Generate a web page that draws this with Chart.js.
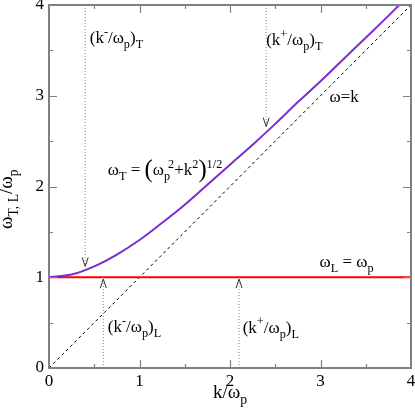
<!DOCTYPE html>
<html>
<head>
<meta charset="utf-8">
<script src="https://cdn.jsdelivr.net/npm/chart.js@4/dist/chart.umd.min.js"></script>
<style>
  html, body { margin: 0; padding: 0; background: #fff; }
  #wrap { width: 415px; height: 417px; }
</style>
</head>
<body>
<div id="wrap"><canvas id="canvas" width="415" height="417"></canvas></div>
<script>
// transverse branch
const kT = [0, 0.25, 0.5, 0.75, 1, 1.25, 1.5, 1.75, 2, 2.25, 2.5, 2.75, 3, 3.25, 3.5, 3.75, 3.87];
const omegaT = [1, 1.03, 1.12, 1.25, 1.41, 1.6, 1.8, 2.02, 2.24, 2.46, 2.69, 2.93, 3.16, 3.4, 3.64, 3.88, 4];
// longitudinal branch and light line
const kL = [0, 4];
const omegaL = [1, 1];
const kLight = [0, 4];
const omegaLight = [0, 4];
// marker arrows: x position, start and tip
const arrowK = [0.4, 2.4, 0.6, 2.1];
const arrowFrom = [4, 4, 0, 0];
const arrowTo = [1.12, 2.66, 0.98, 0.98];
const tickLabels = ['0', '1', '2', '3', '4'];

const serif = '"Liberation Serif", "DejaVu Serif", serif';
Chart.defaults.font.family = serif;
const pts = (xs, ys) => xs.map((x, i) => ({x: x, y: ys[i]}));

const datasets = [
  {data: pts(kT, omegaT), borderColor: '#7a2ed0', borderWidth: 2, cubicInterpolationMode: 'monotone'},
  {data: pts(kL, omegaL), borderColor: '#ff0000', borderWidth: 2},
  {data: pts(kLight, omegaLight), borderColor: '#000', borderWidth: 1, borderDash: [3, 3]}
];
arrowK.forEach((k, i) => {
  datasets.push({data: [{x: k, y: arrowFrom[i]}, {x: k, y: arrowTo[i]}],
    borderColor: '#8a8a8a', borderWidth: 1, borderDash: [1, 2]});
});
datasets.forEach(d => { d.showLine = true; d.pointRadius = 0; d.fill = false; });

// rich text: parts = [text, kind, extra]
function rich(ctx, x, y, parts, size) {
  let cx = x;
  parts.forEach(p => {
    const kind = p[1] || 'n';
    let s = size, dy = 0;
    if (kind === 'sub') { s = size * 0.72; dy = size * 0.3; }
    if (kind === 'sup') { s = size * 0.72; dy = -size * 0.42; }
    if (kind === 'big') { s = size * 1.45; dy = size * 0.12; }
    if (kind === 'back') { cx -= p[2]; return; }
    ctx.font = s + 'px ' + serif;
    ctx.fillText(p[0], cx, y + dy);
    cx += ctx.measureText(p[0]).width;
  });
}

const decor = {
  id: 'decor',
  afterDatasetsDraw(chart) {
    const ctx = chart.ctx, xs = chart.scales.x, ys = chart.scales.y;
    const a = chart.chartArea;
    ctx.save();
    // arrow heads
    ctx.strokeStyle = '#333';
    ctx.lineWidth = 1;
    arrowK.forEach((k, i) => {
      const px = xs.getPixelForValue(k), py = ys.getPixelForValue(arrowTo[i]);
      const dir = arrowFrom[i] > arrowTo[i] ? -1 : 1;
      ctx.beginPath();
      ctx.moveTo(px - 3, py + dir * 9);
      ctx.lineTo(px, py);
      ctx.lineTo(px + 3, py + dir * 9);
      ctx.stroke();
    });
    // frame and ticks
    ctx.strokeStyle = '#808080';
    ctx.lineWidth = 2;
    ctx.strokeRect(a.left, a.top, a.right - a.left, a.bottom - a.top);
    ctx.lineWidth = 1.2;
    for (let v = 0.5; v < 4; v += 0.5) {
      const len = Number.isInteger(v) ? 8 : 4;
      const px = Math.round(xs.getPixelForValue(v)) + 0.5;
      const py = Math.round(ys.getPixelForValue(v)) + 0.5;
      ctx.beginPath();
      ctx.moveTo(px, a.bottom); ctx.lineTo(px, a.bottom - len);
      ctx.moveTo(px, a.top); ctx.lineTo(px, a.top + len);
      ctx.moveTo(a.left, py); ctx.lineTo(a.left + len, py);
      ctx.moveTo(a.right, py); ctx.lineTo(a.right - len, py);
      ctx.stroke();
    }
    // labels
    ctx.fillStyle = '#000';
    ctx.textBaseline = 'alphabetic';
    ctx.textAlign = 'left';
    const at = (x, y) => [xs.getPixelForValue(x), ys.getPixelForValue(y)];
    const fs = 17;
    let p;
    p = at(0.45, 3.58);
    rich(ctx, p[0], p[1], [['(k'], ['-', 'sup'], ['/ω'], ['p', 'sub'], [')'], ['T', 'sub']], fs);
    p = at(2.4, 3.56);
    rich(ctx, p[0], p[1], [['(k'], ['+', 'sup'], ['/ω'], ['p', 'sub'], [')'], ['T', 'sub']], fs);
    p = at(3.1, 2.93);
    rich(ctx, p[0], p[1], [['ω=k']], fs);
    p = at(0.65, 2.13);
    rich(ctx, p[0], p[1], [['ω'], ['T', 'sub'], [' = '], ['(', 'big'], ['ω'], ['p', 'sub'], ['', 'back', 2], ['2', 'sup'], ['+k'], ['2', 'sup'], [')', 'big'], ['1/2', 'sup']], fs);
    p = at(2.99, 1.11);
    rich(ctx, p[0], p[1], [['ω'], ['L', 'sub'], [' = ω'], ['p', 'sub']], fs);
    p = at(0.65, 0.4);
    rich(ctx, p[0], p[1], [['(k'], ['-', 'sup'], ['/ω'], ['p', 'sub'], [')'], ['L', 'sub']], fs);
    p = at(2.14, 0.39);
    rich(ctx, p[0], p[1], [['(k'], ['+', 'sup'], ['/ω'], ['p', 'sub'], [')'], ['L', 'sub']], fs);
    // axis titles
    rich(ctx, 213, 398, [['k/ω'], ['p', 'sub']], 19);
    ctx.translate(12, 229);
    ctx.rotate(-Math.PI / 2);
    rich(ctx, 0, 0, [['ω'], ['T, L', 'sub'], ['/ω'], ['p', 'sub']], 19);
    ctx.restore();
  }
};

const axisTicks = {
  min: 0, max: 4,
  grid: {display: false, drawTicks: false},
  border: {display: false},
  ticks: {stepSize: 1, color: '#000', font: {family: serif, size: 17},
    callback: (v) => tickLabels[v] !== undefined ? tickLabels[v] : ''}
};

new Chart(document.getElementById('canvas'), {
  type: 'scatter',
  data: {datasets: datasets},
  options: {
    responsive: false,
    animation: false,
    layout: {padding: {top: 5, right: 4, left: 0, bottom: 0}},
    plugins: {legend: {display: false}, tooltip: {enabled: false}},
    scales: {
      x: Object.assign({}, axisTicks, {ticks: Object.assign({}, axisTicks.ticks, {padding: 3, maxRotation: 0}),
        afterFit: s => { s.height = 49; s.paddingLeft = 0; s.paddingRight = 0; }}),
      y: Object.assign({}, axisTicks, {ticks: Object.assign({}, axisTicks.ticks, {padding: 5}),
        afterFit: s => { s.width = 49; s.paddingTop = 0; s.paddingBottom = 0; }})
    }
  },
  plugins: [decor]
});
</script>
</body>
</html>
